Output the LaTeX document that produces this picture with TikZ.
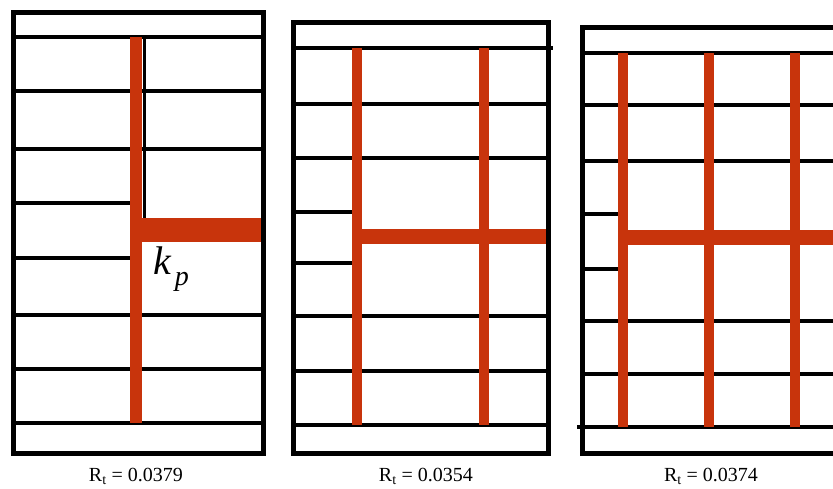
\documentclass[tikz,border=0pt]{standalone}
\usepackage{fontspec}
\setmainfont{Liberation Serif}
\usepackage{tikz}
\definecolor{rust}{HTML}{C8340C}
\tikzset{
  frame/.style={line width=5pt},
  bar/.style={line width=4pt},
  rib/.style={rust,line width=10pt},
  ratio/.style={font=\fontsize{20}{24}\selectfont,anchor=base}
}
\begin{document}
\begin{tikzpicture}[x=1pt,y=-1pt]
  \useasboundingbox (0,0) rectangle (833,488);
  % panel 1: one stiffener
  \draw[frame] (13,12) rectangle (263,453);
  \foreach \y in {37,91,149,315,369,423}
    \draw[bar] (13,\y) -- (263,\y);
  \foreach \y in {203,258}
    \draw[bar] (13,\y) -- (136,\y);
  \draw[line width=3pt] (144,37) -- (144,218);
  \draw[rib,line width=12pt] (136,37) -- (136,423);
  \draw[rib,line width=24pt] (130,230) -- (261,230);
  \node[anchor=base west,inner sep=0pt] (kp) at (153,274)
    {\fontsize{40}{40}\selectfont\itshape k\hspace{4pt}\raisebox{-11pt}{\fontsize{28}{28}\selectfont p}};
  \node[ratio] (rt1) at (136,481) {R\textsubscript{t} = 0.0379};
  % panel 2: two stiffeners
  \draw[frame] (293,22) rectangle (548,453);
  \draw[bar] (293,48) -- (553,48);
  \foreach \y in {104,158,316,371,425}
    \draw[bar] (293,\y) -- (548,\y);
  \foreach \y in {212,263}
    \draw[bar] (293,\y) -- (357,\y);
  \foreach \x in {357,484}
    \draw[rib] (\x,48) -- (\x,425);
  \draw[rib,line width=15pt] (352,236) -- (546,236);
  \node[ratio] (rt2) at (426,481) {R\textsubscript{t} = 0.0354};
  % panel 3: three stiffeners
  \draw[frame] (833,27) -| (582,453) -- (833,453);
  \foreach \y in {53,105,161,321,374}
    \draw[bar] (582,\y) -- (833,\y);
  \draw[bar] (577,427) -- (833,427);
  \foreach \y in {214,269}
    \draw[bar] (582,\y) -- (623,\y);
  \foreach \x in {623,709,795}
    \draw[rib] (\x,53) -- (\x,427);
  \draw[rib,line width=15pt] (618,237) -- (833,237);
  \node[ratio] (rt3) at (711,481) {R\textsubscript{t} = 0.0374};
\end{tikzpicture}
\end{document}
